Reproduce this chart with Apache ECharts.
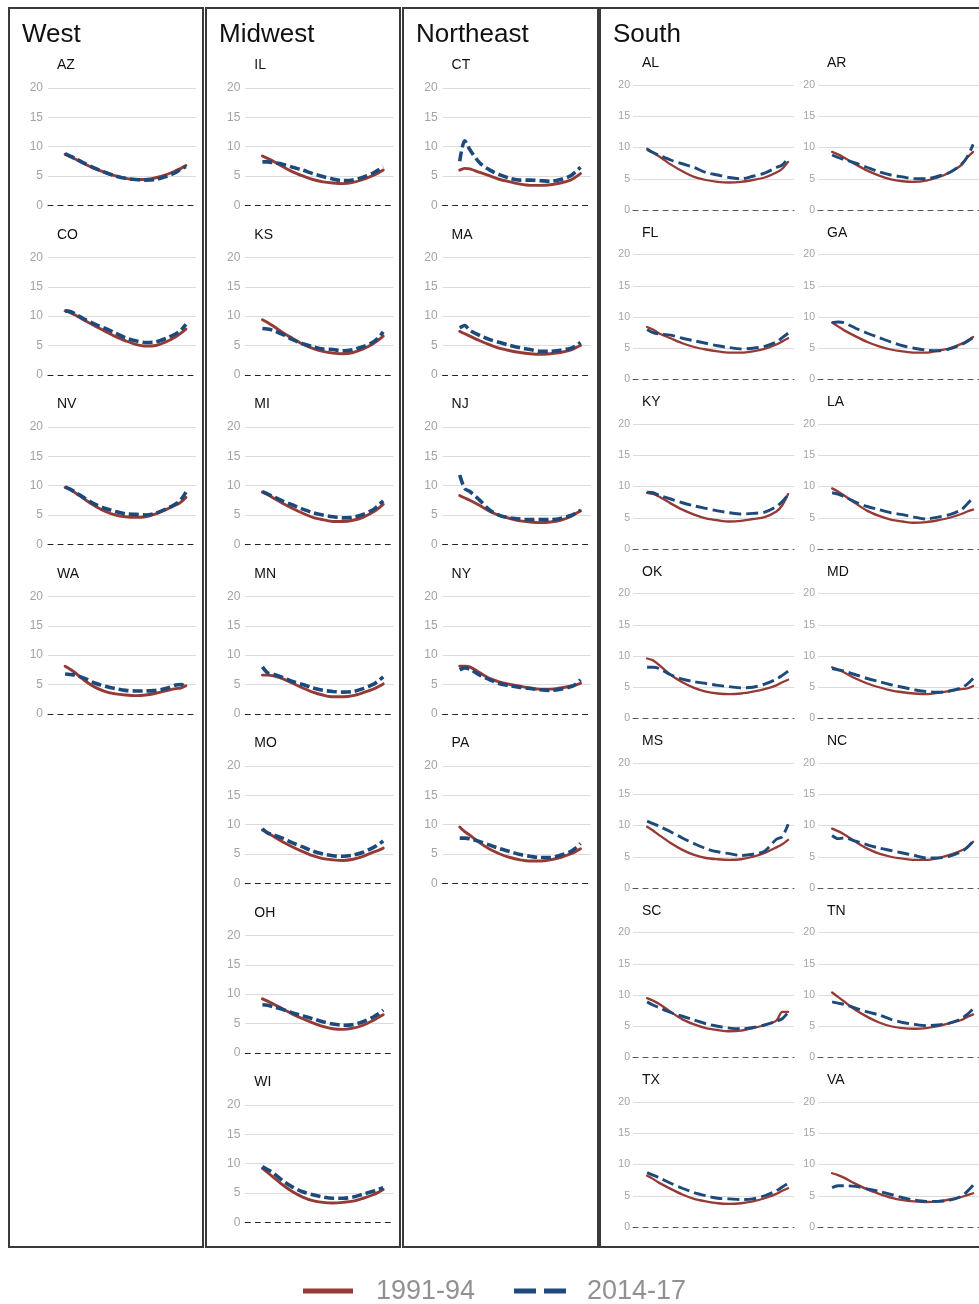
<!DOCTYPE html>
<html>
<head>
<meta charset="utf-8">
<title>Seasonal pattern by state</title>
<script src="https://cdn.jsdelivr.net/npm/echarts@6/dist/echarts.min.js"></script>
<style>
  html, body { margin: 0; padding: 0; background: #fff; overflow: hidden; }
  #chart { width: 979px; height: 1304px; }
</style>
</head>
<body>
<div id="chart"></div>
<script>
// Shared x positions of the smoothed curves (x axis is not labelled)
const xSteps = [0, 0.5, 1, 2, 3, 4, 5, 6, 7, 8, 9, 10, 11, 11.5, 12];
const periods = ['1991-94', '2014-17'];
const regionNames = ['West', 'Midwest', 'Northeast', 'South'];

// West
const westStates = ['AZ', 'CO', 'NV', 'WA'];
const west9194 = [
  [8.7, 8.3, 7.9, 7.0, 6.2, 5.6, 5.0, 4.6, 4.4, 4.4, 4.7, 5.2, 5.9, 6.3, 6.8],
  [10.9, 10.6, 10.2, 9.2, 8.3, 7.4, 6.5, 5.8, 5.2, 4.9, 5.0, 5.6, 6.5, 7.1, 7.8],
  [9.7, 9.3, 8.8, 7.6, 6.5, 5.6, 5.0, 4.7, 4.6, 4.7, 5.2, 5.9, 6.7, 7.2, 8.0],
  [8.1, 7.6, 7.0, 5.6, 4.5, 3.8, 3.4, 3.2, 3.1, 3.2, 3.5, 3.9, 4.3, 4.4, 4.8]
];
const west1417 = [
  [8.8, 8.4, 8.0, 7.1, 6.3, 5.6, 5.0, 4.6, 4.4, 4.3, 4.4, 4.9, 5.6, 6.2, 6.6],
  [10.9, 10.8, 10.4, 9.4, 8.6, 7.9, 7.1, 6.3, 5.8, 5.5, 5.6, 6.2, 7.0, 7.6, 8.6],
  [9.8, 9.4, 8.9, 7.8, 6.8, 6.1, 5.6, 5.2, 5.1, 5.0, 5.3, 6.0, 6.9, 7.6, 8.9],
  [6.8, 6.7, 6.6, 6.0, 5.2, 4.7, 4.3, 4.0, 3.9, 3.9, 4.0, 4.3, 4.9, 5.0, 4.6]
];

// Midwest
const midwestStates = ['IL', 'KS', 'MI', 'MN', 'MO', 'OH', 'WI'];
const midwest9194 = [
  [8.4, 8.0, 7.6, 6.6, 5.7, 5.0, 4.4, 4.0, 3.8, 3.7, 3.9, 4.4, 5.1, 5.5, 6.0],
  [9.4, 8.9, 8.4, 7.2, 6.2, 5.2, 4.5, 4.0, 3.7, 3.6, 3.8, 4.4, 5.3, 5.9, 6.6],
  [8.9, 8.5, 8.0, 7.0, 6.1, 5.3, 4.6, 4.2, 3.9, 3.9, 4.1, 4.6, 5.5, 6.1, 6.8],
  [6.6, 6.6, 6.5, 6.0, 5.2, 4.4, 3.7, 3.2, 2.9, 2.9, 3.1, 3.6, 4.2, 4.6, 5.1],
  [9.1, 8.6, 8.1, 7.1, 6.2, 5.4, 4.7, 4.2, 4.0, 3.9, 4.1, 4.6, 5.3, 5.6, 6.0],
  [9.2, 8.8, 8.4, 7.5, 6.6, 5.8, 5.1, 4.5, 4.1, 4.0, 4.2, 4.7, 5.5, 6.0, 6.5],
  [9.2, 8.5, 7.8, 6.4, 5.2, 4.3, 3.7, 3.4, 3.3, 3.4, 3.6, 4.1, 4.7, 5.1, 5.6]
];
const midwest1417 = [
  [7.4, 7.4, 7.3, 7.0, 6.5, 6.0, 5.4, 4.9, 4.5, 4.2, 4.3, 4.8, 5.5, 6.0, 6.6],
  [7.9, 7.8, 7.6, 6.9, 6.0, 5.3, 4.8, 4.4, 4.3, 4.1, 4.3, 4.8, 5.6, 6.3, 7.3],
  [9.0, 8.6, 8.2, 7.4, 6.7, 6.0, 5.4, 5.0, 4.7, 4.5, 4.6, 5.1, 5.9, 6.6, 7.4],
  [8.0, 7.0, 6.8, 6.2, 5.5, 5.0, 4.4, 4.0, 3.8, 3.7, 3.8, 4.3, 5.0, 5.6, 6.3],
  [9.3, 8.6, 8.3, 7.7, 6.9, 6.2, 5.5, 5.0, 4.7, 4.6, 4.8, 5.3, 6.1, 6.6, 7.2],
  [8.2, 8.1, 7.9, 7.4, 6.8, 6.3, 5.8, 5.3, 4.9, 4.7, 4.8, 5.3, 6.1, 6.6, 7.3],
  [9.5, 9.0, 8.5, 7.1, 6.0, 5.2, 4.7, 4.3, 4.1, 4.1, 4.3, 4.8, 5.3, 5.6, 5.9]
];

// Northeast
const northeastStates = ['CT', 'MA', 'NJ', 'NY', 'PA'];
const northeast9194 = [
  [6.0, 6.3, 6.2, 5.6, 5.0, 4.4, 4.0, 3.6, 3.4, 3.4, 3.5, 3.8, 4.3, 4.8, 5.4],
  [7.4, 7.0, 6.6, 5.8, 5.1, 4.5, 4.1, 3.8, 3.6, 3.5, 3.6, 3.8, 4.2, 4.6, 5.0],
  [8.3, 7.9, 7.5, 6.6, 5.6, 4.9, 4.4, 4.0, 3.8, 3.7, 3.8, 4.1, 4.7, 5.2, 5.7],
  [8.1, 8.1, 8.0, 7.0, 6.0, 5.4, 5.0, 4.7, 4.4, 4.2, 4.2, 4.4, 4.7, 4.9, 5.2],
  [9.6, 8.8, 8.2, 6.9, 5.8, 5.0, 4.4, 4.0, 3.8, 3.8, 4.0, 4.4, 5.0, 5.4, 5.9]
];
const northeast1417 = [
  [7.5, 11.0, 9.5, 7.2, 6.0, 5.2, 4.6, 4.3, 4.3, 4.2, 4.1, 4.4, 5.0, 5.7, 6.5],
  [8.0, 8.4, 7.6, 6.7, 6.0, 5.5, 5.0, 4.6, 4.3, 4.0, 4.0, 4.2, 4.5, 4.9, 5.5],
  [11.8, 9.5, 9.0, 7.5, 5.8, 4.9, 4.5, 4.3, 4.2, 4.2, 4.2, 4.4, 4.9, 5.3, 5.8],
  [7.5, 7.8, 7.6, 6.6, 5.8, 5.1, 4.8, 4.5, 4.3, 4.1, 4.0, 4.2, 4.6, 5.0, 5.8],
  [7.7, 7.7, 7.6, 7.1, 6.5, 5.9, 5.4, 4.9, 4.6, 4.4, 4.4, 4.8, 5.4, 6.0, 6.8]
];

// South (reading order, two states per row)
const southStates = ['AL', 'AR', 'FL', 'GA', 'KY', 'LA', 'OK', 'MD', 'MS', 'NC', 'SC', 'TN', 'TX', 'VA'];
const south9194 = [
  [9.8, 9.2, 8.6, 7.3, 6.2, 5.3, 4.8, 4.5, 4.4, 4.5, 4.8, 5.2, 6.0, 6.6, 7.7],
  [9.3, 8.9, 8.4, 7.3, 6.3, 5.5, 4.9, 4.6, 4.5, 4.7, 5.2, 6.0, 7.2, 8.4, 9.3],
  [8.4, 8.0, 7.4, 6.6, 5.8, 5.2, 4.8, 4.5, 4.3, 4.3, 4.5, 4.9, 5.6, 6.1, 6.6],
  [9.1, 8.5, 7.9, 6.9, 6.0, 5.3, 4.8, 4.5, 4.3, 4.3, 4.6, 5.0, 5.7, 6.2, 6.8],
  [9.0, 8.8, 8.4, 7.3, 6.3, 5.5, 4.9, 4.6, 4.4, 4.5, 4.8, 5.1, 6.0, 7.0, 8.8],
  [9.7, 9.2, 8.6, 7.3, 6.1, 5.3, 4.7, 4.4, 4.2, 4.3, 4.6, 5.0, 5.6, 6.0, 6.3],
  [9.6, 9.3, 8.6, 7.0, 5.8, 4.9, 4.3, 4.0, 3.9, 4.0, 4.3, 4.7, 5.3, 5.8, 6.2],
  [8.2, 7.8, 7.4, 6.4, 5.6, 5.0, 4.5, 4.2, 4.0, 3.9, 4.1, 4.4, 4.7, 4.8, 5.2],
  [9.8, 9.2, 8.5, 7.2, 6.1, 5.3, 4.8, 4.6, 4.5, 4.6, 5.0, 5.6, 6.5, 7.0, 7.7],
  [9.5, 9.1, 8.6, 7.4, 6.3, 5.5, 5.0, 4.7, 4.5, 4.5, 4.8, 5.3, 6.0, 6.5, 7.4],
  [9.5, 9.1, 8.6, 7.3, 6.1, 5.3, 4.7, 4.4, 4.2, 4.3, 4.7, 5.2, 5.9, 7.3, 7.3],
  [10.4, 9.7, 9.0, 7.6, 6.5, 5.6, 5.0, 4.7, 4.6, 4.7, 5.0, 5.5, 6.0, 6.5, 6.9],
  [8.2, 7.7, 7.1, 6.1, 5.2, 4.5, 4.1, 3.8, 3.7, 3.8, 4.1, 4.6, 5.3, 5.8, 6.2],
  [8.6, 8.3, 7.9, 6.9, 6.0, 5.3, 4.7, 4.3, 4.1, 4.0, 4.1, 4.4, 4.8, 5.1, 5.4]
];
const south1417 = [
  [9.7, 9.2, 8.8, 8.0, 7.4, 6.8, 6.0, 5.6, 5.2, 5.0, 5.4, 5.9, 6.8, 7.2, 8.3],
  [8.8, 8.4, 8.1, 7.5, 6.8, 6.1, 5.6, 5.3, 5.0, 5.0, 5.4, 6.0, 7.3, 8.5, 10.5],
  [8.0, 7.5, 7.3, 7.1, 6.6, 6.2, 5.8, 5.4, 5.1, 4.9, 5.0, 5.3, 6.0, 6.7, 7.4],
  [9.1, 9.2, 9.1, 8.2, 7.4, 6.7, 6.0, 5.4, 5.0, 4.7, 4.6, 4.9, 5.6, 6.1, 6.7],
  [9.1, 9.0, 8.6, 8.0, 7.4, 6.9, 6.5, 6.1, 5.8, 5.6, 5.7, 5.9, 6.8, 7.6, 8.7],
  [9.0, 8.8, 8.4, 7.5, 6.8, 6.3, 5.8, 5.5, 5.1, 4.8, 5.1, 5.5, 6.3, 7.2, 8.2],
  [8.2, 8.2, 8.0, 7.0, 6.3, 5.9, 5.6, 5.3, 5.1, 4.9, 5.0, 5.5, 6.3, 6.9, 7.6],
  [8.0, 7.8, 7.6, 7.0, 6.4, 5.9, 5.4, 5.0, 4.6, 4.3, 4.2, 4.4, 4.9, 5.5, 6.4],
  [10.7, 10.3, 9.9, 9.0, 8.0, 7.1, 6.3, 5.8, 5.5, 5.2, 5.4, 5.9, 7.8, 8.2, 10.2],
  [8.4, 7.9, 8.0, 7.5, 6.9, 6.4, 6.0, 5.6, 5.2, 4.8, 4.8, 5.1, 5.8, 6.5, 7.5],
  [8.9, 8.4, 8.0, 7.2, 6.6, 6.0, 5.4, 5.0, 4.7, 4.6, 4.8, 5.2, 5.8, 6.2, 7.2],
  [8.9, 8.7, 8.5, 7.9, 7.3, 6.8, 6.1, 5.6, 5.3, 5.1, 5.2, 5.5, 6.2, 6.9, 7.8],
  [8.7, 8.3, 7.9, 7.0, 6.2, 5.5, 5.0, 4.6, 4.5, 4.4, 4.5, 5.0, 5.8, 6.4, 7.0],
  [6.3, 6.6, 6.6, 6.5, 6.1, 5.7, 5.2, 4.7, 4.3, 4.1, 4.1, 4.3, 4.9, 5.7, 6.7]
];

// ---------------------------------------------------------------------------
const FONT = '"Liberation Sans", Arial, Helvetica, sans-serif';
const RED = '#963a36';
const BLUE = '#1d4a7a';
const ROW_STEP = 169.5;

const grids = [], xAxes = [], yAxes = [], series = [], graphics = [];

// Narrow panel style (West / Midwest / Northeast)
const narrowCell = {
  width: 148, height: 117.3, top0: 88, label0: 65.5,
  xMin: -1.7, xMax: 13.0, fs: 12, margin: 5,
  zeroColor: '#222', redW: 2.9, blueW: 3.6, dash: [10, 4]
};
// Wide panel style (South, two columns)
const wideCell = {
  width: 161, height: 125, top0: 85, label0: 63.5,
  xMin: -1.2, xMax: 12.5, fs: 10.5, margin: 3,
  zeroColor: '#555', redW: 2.3, blueW: 2.9, dash: [12, 5]
};

function addCell(state, redVals, blueVals, left, row, cfg) {
  const i = grids.length;
  const top = cfg.top0 + ROW_STEP * row;
  grids.push({ left: left, top: top, width: cfg.width, height: cfg.height });
  xAxes.push({
    gridIndex: i, type: 'value', min: cfg.xMin, max: cfg.xMax,
    axisLabel: { show: false }, axisTick: { show: false }, splitLine: { show: false },
    axisLine: { show: true, onZero: true, lineStyle: { color: cfg.zeroColor, width: 1, type: [5, 5] } }
  });
  yAxes.push({
    gridIndex: i, type: 'value', min: 0, max: 20, interval: 5,
    axisLine: { show: false }, axisTick: { show: false },
    axisLabel: { color: '#a3a3a3', fontSize: cfg.fs, margin: cfg.margin, fontFamily: FONT },
    splitLine: { show: true, lineStyle: { color: ['rgba(0,0,0,0)', '#dcdcdc', '#dcdcdc', '#dcdcdc', '#dcdcdc'], width: 1 } }
  });
  series.push({
    name: periods[0], type: 'line', xAxisIndex: i, yAxisIndex: i,
    data: xSteps.map((x, k) => [x, redVals[k]]),
    symbol: 'none', showSymbol: false, smooth: 0.3, silent: true, z: 2,
    lineStyle: { color: RED, width: cfg.redW, cap: 'round' }, itemStyle: { color: RED }
  });
  series.push({
    name: periods[1], type: 'line', xAxisIndex: i, yAxisIndex: i,
    data: xSteps.map((x, k) => [x, blueVals[k]]),
    symbol: 'none', showSymbol: false, smooth: 0.3, silent: true, z: 3,
    lineStyle: { color: BLUE, width: cfg.blueW, type: cfg.dash }, itemStyle: { color: BLUE }
  });
  graphics.push({
    type: 'text', x: left + 9, y: cfg.label0 + ROW_STEP * row, z: 10,
    style: { text: state, fill: '#111', font: '14px ' + FONT, verticalAlign: 'middle', textVerticalAlign: 'middle' }
  });
}

// Narrow region panels
const narrowRegions = [
  { states: westStates, a: west9194, b: west1417 },
  { states: midwestStates, a: midwest9194, b: midwest1417 },
  { states: northeastStates, a: northeast9194, b: northeast1417 }
];
narrowRegions.forEach((reg, c) => {
  const left = 48 + 197.3 * c;
  reg.states.forEach((st, r) => addCell(st, reg.a[r], reg.b[r], left, r, narrowCell));
});

// South panel, two columns
southStates.forEach((st, idx) => {
  const col = idx % 2, row = Math.floor(idx / 2);
  addCell(st, south9194[idx], south1417[idx], 633 + 185 * col, row, wideCell);
});

// Region frames and titles
const frameLeft = [9, 206, 403, 600];
const frameWidth = [194, 194, 195, 500];
regionNames.forEach((name, k) => {
  graphics.push({
    type: 'rect', z: 1,
    shape: { x: frameLeft[k], y: 8, width: frameWidth[k], height: 1239 },
    style: { fill: 'none', stroke: '#3a3a3a', lineWidth: 2 }
  });
  graphics.push({
    type: 'text', x: frameLeft[k] + 13, y: 35, z: 10,
    style: { text: name, fill: '#111', font: '26px ' + FONT, verticalAlign: 'middle', textVerticalAlign: 'middle' }
  });
});

// Legend
graphics.push({ type: 'line', shape: { x1: 303, y1: 1291, x2: 353, y2: 1291 }, style: { stroke: RED, lineWidth: 5 } });
graphics.push({ type: 'text', x: 376, y: 1292, style: { text: periods[0], fill: '#919191', font: '27px ' + FONT, verticalAlign: 'middle', textVerticalAlign: 'middle' } });
graphics.push({ type: 'line', shape: { x1: 514, y1: 1291, x2: 566, y2: 1291 }, style: { stroke: BLUE, lineWidth: 5, lineDash: [22, 8] } });
graphics.push({ type: 'text', x: 587, y: 1292, style: { text: periods[1], fill: '#919191', font: '27px ' + FONT, verticalAlign: 'middle', textVerticalAlign: 'middle' } });

const chart = echarts.init(document.getElementById('chart'), null, { renderer: 'canvas' });
chart.setOption({
  animation: false,
  backgroundColor: '#ffffff',
  textStyle: { fontFamily: FONT },
  grid: grids,
  xAxis: xAxes,
  yAxis: yAxes,
  series: series,
  graphic: graphics
});
</script>
</body>
</html>
